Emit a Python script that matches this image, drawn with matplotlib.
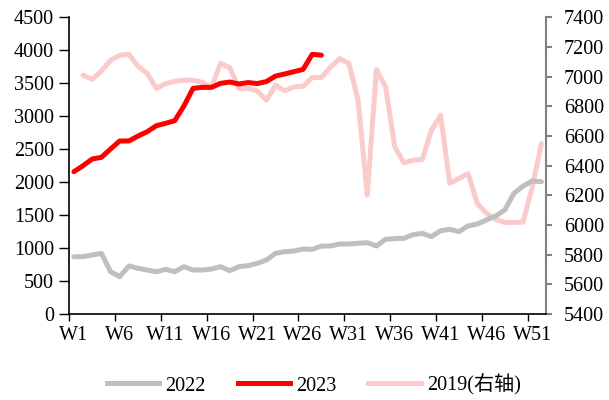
import matplotlib
matplotlib.use("Agg")
import matplotlib.pyplot as plt
from matplotlib.lines import Line2D

weeks = list(range(1, 53))
week_labels = ["W1", "W6", "W11", "W16", "W21", "W26", "W31", "W36", "W41", "W46", "W51"]

s2022 = [869, 869, 895, 920, 641, 566, 728, 693, 667, 641,
         677, 641, 718, 667, 667, 682, 718, 657, 718, 733,
         768, 819, 920, 945, 955, 986, 980, 1031, 1031, 1062,
         1062, 1072, 1082, 1031, 1133, 1143, 1148, 1203, 1224, 1173,
         1264, 1284, 1249, 1335, 1365, 1426, 1486, 1577, 1830, 1941,
         2017, 2007]

s2023 = [2158, 2249, 2351, 2376, 2502, 2624, 2624, 2699, 2765, 2856,
         2892, 2932, 3154, 3422, 3437, 3437, 3498, 3518, 3488, 3510,
         3495, 3525, 3609, 3640, 3675, 3710, 3938, 3925]

s2019_weeks = list(range(2, 53))
s2019 = [7009, 6982, 7038, 7110, 7144, 7151, 7070, 7021, 6920,
         6953, 6969, 6976, 6976, 6962, 6927, 7090, 7060, 6920, 6920,
         6904, 6841, 6942, 6904, 6931, 6935, 6994, 6994, 7065, 7122,
         7088, 6841, 6201, 7048, 6931, 6527, 6419, 6437, 6441, 6639,
         6740, 6280, 6314, 6347, 6145, 6078, 6038, 6017, 6017, 6020,
         6257, 6549]

FONT = ["Liberation Serif", "Noto Sans CJK SC"]
plt.rcParams["font.family"] = FONT
FS = 14.5

fig = plt.figure(figsize=(6.09, 4.0), dpi=100)
ax = fig.add_axes([0.1138, 0.215, 0.8966 - 0.1138, 0.9568 - 0.215])
ax2 = ax.twinx()

c2022 = "#BFBFBF"
c2023 = "#FF0000"
c2019 = "#FBCBCB"
lw = 3.6

ax2.plot(s2019_weeks, s2019, color=c2019, lw=lw, solid_capstyle="round", solid_joinstyle="round")
ax.plot(weeks, s2022, color=c2022, lw=lw, solid_capstyle="round", solid_joinstyle="round")
ax.plot(weeks[:len(s2023)], s2023, color=c2023, lw=lw, solid_capstyle="round", solid_joinstyle="round")

ax.set_zorder(ax2.get_zorder() + 1)
ax.patch.set_visible(False)

ax.set_xlim(0.5, 52.5)
ax.set_ylim(0, 4500)
ax2.set_ylim(5400, 7400)
ax.set_yticks(range(0, 4501, 500))
ax2.set_yticks(range(5400, 7401, 200))

# category-style axis: tick marks at boundaries, labels centred on categories
ax.set_xticks([0.5 + 5 * i for i in range(11)])
ax.set_xticklabels([""] * 11)
ax.set_xticks([1 + 5 * i for i in range(11)], minor=True)
ax.set_xticklabels(week_labels, minor=True)
ax.tick_params(axis="x", which="minor", length=0, pad=9, labelsize=FS)
ax.tick_params(axis="x", which="major", direction="out", length=5, width=1, color="black")
ax.tick_params(axis="y", direction="out", length=7, width=1, color="black", pad=4, labelsize=FS)
ax2.tick_params(axis="y", direction="out", length=4, width=1.5, color="#808080", pad=9, labelsize=FS)

for a in (ax, ax2):
    a.spines["top"].set_visible(False)
ax.spines["right"].set_visible(False)
ax2.spines["left"].set_visible(False)
ax2.spines["bottom"].set_visible(False)
ax.spines["left"].set_color("black")
ax.spines["bottom"].set_color("black")
ax.spines["left"].set_linewidth(1.2)
ax.spines["bottom"].set_linewidth(1.2)
ax2.spines["right"].set_color("#808080")
ax2.spines["right"].set_linewidth(1.5)

handles = [Line2D([], [], color=c2022, lw=lw),
           Line2D([], [], color=c2023, lw=lw),
           Line2D([], [], color=c2019, lw=lw)]
fig.legend(handles, ["2022", "2023", "2019(右轴)"], loc="center", bbox_to_anchor=(0.515, 0.038),
           ncol=3, frameon=False, fontsize=FS, handlelength=2.6, handletextpad=0.3,
           columnspacing=1.6)

fig.savefig("out.png", dpi=100)
